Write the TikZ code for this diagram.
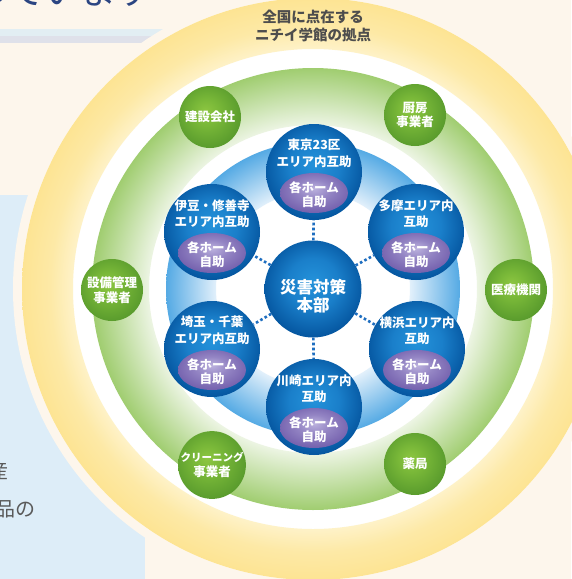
\documentclass[tikz,border=0pt]{standalone}
\usepackage{fontspec}
\setmainfont{Noto Sans CJK JP}
\usetikzlibrary{shapes.geometric}
\definecolor{bgc}{HTML}{FDF6EC}
\definecolor{panelc}{HTML}{DDEDF8}
\definecolor{barone}{HTML}{E2EEF3}
\definecolor{bartwo}{HTML}{DFE1EA}
\definecolor{titlec}{HTML}{2B4582}
\definecolor{grayc}{HTML}{5A5A5A}
\definecolor{toptc}{HTML}{4D4D4D}
\definecolor{ylA}{HTML}{FEF2C8}
\definecolor{ylM}{HTML}{FDE9A6}
\definecolor{ylB}{HTML}{FDE493}
\definecolor{grA}{HTML}{EDF5E4}
\definecolor{grB}{HTML}{A0CD70}
\definecolor{blA}{HTML}{E2F0FB}
\definecolor{blB}{HTML}{55AAE4}
\definecolor{bnA}{HTML}{2492DA}
\definecolor{bnB}{HTML}{1A7FCA}
\definecolor{bnC}{HTML}{0658A2}
\definecolor{gnA}{HTML}{8DC641}
\definecolor{gnB}{HTML}{78B738}
\definecolor{gnC}{HTML}{5A9C2D}
\definecolor{puA}{HTML}{BCB2DE}
\definecolor{puB}{HTML}{9485C4}
\definecolor{puC}{HTML}{7562AE}
\definecolor{dotc}{HTML}{1E6EC0}
\pgfdeclareradialshading{yring}{\pgfpoint{0bp}{0bp}}{color(0bp)=(ylA);color(20.6bp)=(ylA);color(22.6bp)=(ylM);color(25bp)=(ylB);color(50bp)=(ylB)}
\pgfdeclareradialshading{gring}{\pgfpoint{0bp}{0bp}}{color(0bp)=(grA);color(18.5bp)=(grA);color(25bp)=(grB);color(50bp)=(grB)}
\pgfdeclareradialshading{bring}{\pgfpoint{0bp}{0bp}}{color(0bp)=(blA);color(16.5bp)=(blA);color(25bp)=(blB);color(50bp)=(blB)}
\pgfdeclareradialshading{bnodesh}{\pgfpoint{0bp}{4bp}}{color(0bp)=(bnA);color(13bp)=(bnB);color(26bp)=(bnC);color(50bp)=(bnC)}
\pgfdeclareradialshading{gnodesh}{\pgfpoint{-4bp}{5bp}}{color(0bp)=(gnA);color(11bp)=(gnB);color(27bp)=(gnC);color(50bp)=(gnC)}
\pgfdeclareradialshading{pellsh}{\pgfpoint{0bp}{6bp}}{color(0bp)=(puA);color(12bp)=(puB);color(27bp)=(puC);color(50bp)=(puC)}
\tikzset{
  bcirc/.style={circle, minimum size=96pt, inner sep=0pt, shading=bnodesh},
  ccirc/.style={circle, minimum size=97pt, inner sep=0pt, shading=bnodesh},
  btext/.style={text=white, align=center, inner sep=0pt, font=\bfseries\fontsize{12.5}{16.5}\selectfont},
  pell/.style={ellipse, minimum width=68pt, minimum height=40pt, inner sep=0pt, shading=pellsh},
  etext/.style={text=white, align=center, inner sep=0pt, font=\bfseries\fontsize{12.5}{13.5}\selectfont},
  ctext/.style={text=white, align=center, inner sep=0pt, font=\bfseries\fontsize{16.5}{17.5}\selectfont},
  gcirc/.style={circle, minimum size=62pt, inner sep=0pt, shading=gnodesh, text=white, align=center, font=\bfseries\fontsize{12.5}{14.5}\selectfont},
  dotline/.style={draw=dotc, line width=2.6pt, dash pattern=on 2.6pt off 2.4pt},
  toptext/.style={text=toptc, align=center, inner sep=0pt, font=\bfseries\fontsize{14.5}{18}\selectfont},
  fragtext/.style={inner sep=0pt, text=titlec, font=\fontsize{36}{36}\selectfont},
  sidetext/.style={inner sep=0pt, anchor=east, text=grayc, font=\fontsize{20}{20}\selectfont}
}
\newcommand{\areanode}[5]{%
  \node[bcirc] (#1) at (#2,#3) {};
  \node[btext, yshift=18.5pt] (#1-t) at (#1) {#4\\#5};
  \node[pell, yshift=-21pt] (#1-e) at (#1) {};
  \node[etext, yshift=-22.7pt] (#1-et) at (#1) {各ホーム\\自助};
}
\begin{document}
\begin{tikzpicture}[x=1pt,y=-1pt]
\useasboundingbox (0,0) rectangle (571,579);
\fill[bgc] (0,0) rectangle (571,579);
% fragments of surrounding page
\node[fragtext, anchor=base west] (frag) at (-26,4.5) {っています};
\fill[barone] (0,29) rectangle (260,36);
\fill[bartwo] (0,36) rectangle (260,43);
\fill[panelc] (0,195) rectangle (145,579);
\node[sidetext] (side1) at (9,471) {産};
\node[sidetext] (side2) at (36,509) {品の};
% rings
\fill[bgc] (313,289) circle (300pt);
\fill[white] (313,289) circle (291pt);
\shade[shading=yring, even odd rule] (313,289) circle (291pt) (313,289) circle (240pt);
\shade[shading=gring, even odd rule] (313,289) circle (221pt) (313,289) circle (164pt);
\shade[shading=bring, even odd rule] (313,289) circle (147pt) (313,289) circle (97pt);
% top label
\node[toptext] (ttl) at (313,26) {全国に点在する\\ニチイ学館の拠点};
% green partner nodes
\node[gcirc] (kensetsu) at (210,117) {建設会社};
\node[gcirc] (chubo) at (415,115) {厨房\\事業者};
\node[gcirc] (iryo) at (516,290) {医療機関};
\node[gcirc] (setsubi) at (112,290) {設備管理\\事業者};
\node[gcirc] (cleaning) at (212,465) {{\fontsize{10.5}{14.5}\selectfont クリーニング}\\事業者};
\node[gcirc] (yakkyoku) at (415,464) {薬局};
% center
\node[ccirc] (hq) at (313,289) {};
\node[ctext, yshift=-7pt] (hq-t) at (hq) {災害対策\\本部};
% area nodes
\areanode{tokyo}{314}{172}{東京23区}{エリア内互助}
\areanode{tama}{416}{232}{多摩エリア内}{互助}
\areanode{yokohama}{417}{349}{横浜エリア内}{互助}
\areanode{kawasaki}{314}{407}{川崎エリア内}{互助}
\areanode{saitama}{212}{349}{埼玉・千葉}{エリア内互助}
\areanode{izu}{212}{232}{伊豆・修善寺}{エリア内互助}
% dotted connectors
\draw[dotline] (hq) -- (tokyo);
\draw[dotline] (hq) -- (tama);
\draw[dotline] (hq) -- (yokohama);
\draw[dotline] (hq) -- (kawasaki);
\draw[dotline] (hq) -- (saitama);
\draw[dotline] (hq) -- (izu);
\end{tikzpicture}
\end{document}
